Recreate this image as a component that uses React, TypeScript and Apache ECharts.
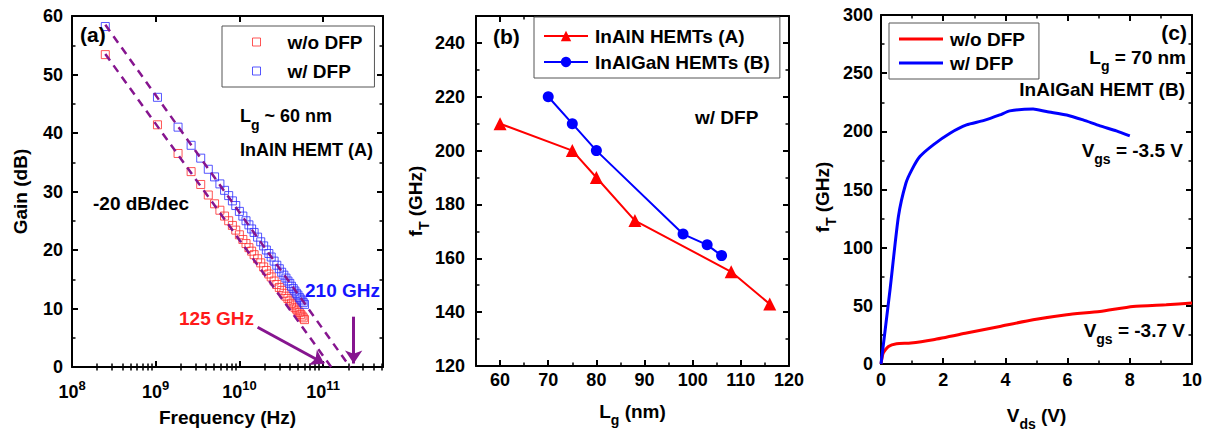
import React, { useEffect, useRef } from 'react';
import * as echarts from 'echarts';

const FONT = '"Liberation Sans", Arial, Helvetica, sans-serif';
const BLACK = '#000';
const PURPLE = '#86158f';

// ---------- Panel (a) data ----------
const freqGHz = [0.25, 1.05, 1.85, 2.65, 3.45, 4.25, 5.05, 5.85, 6.65, 7.45, 8.25, 9.05, 10, 11, 12, 13, 14, 15, 16.5, 18, 19.5, 21, 22.5, 24, 26, 28, 30, 32, 34, 36, 38, 40, 42, 44, 46, 48, 50, 52, 54, 56, 58, 60];
const gainWoDFP = [53.4, 41.4, 36.5, 33.4, 31.2, 29.4, 27.9, 26.8, 25.8, 25.0, 24.2, 23.4, 22.6, 21.8, 21.1, 20.4, 19.8, 19.2, 18.5, 17.8, 17.1, 16.5, 15.9, 15.4, 14.7, 14.1, 13.6, 13.1, 12.6, 12.1, 11.7, 11.3, 10.9, 10.6, 10.2, 9.9, 9.6, 9.3, 9.0, 8.7, 8.4, 8.1];
const gainWDFP = [58.2, 46.1, 41.0, 37.9, 35.7, 33.8, 32.5, 31.3, 30.2, 29.3, 28.4, 27.6, 26.6, 25.8, 25.0, 24.3, 23.6, 23.0, 22.2, 21.4, 20.7, 20.0, 19.4, 18.8, 18.1, 17.4, 16.8, 16.2, 15.7, 15.2, 14.7, 14.3, 13.8, 13.4, 13.0, 12.6, 12.3, 11.9, 11.6, 11.3, 11.0, 10.7];
const fitWoDFP = [[0.25, 53.5], [125, 0]]; // GHz, dB
const fitWDFP = [[0.25, 58.5], [210, 0]];
const arrow125 = [[16.5, 6.8], [103, 0.6]];
const arrow210 = [[232, 8.6], [232, 0.6]];
const freqMinHz = 1e8;
const freqMaxHz = 5.2e11;
const logDecades = [8, 9, 10, 11];
const minorMultipliers = [2, 3, 4, 5, 6, 7, 8, 9];

// ---------- Panel (b) data ----------
const lgA = [60, 75, 80, 88, 108, 116];
const ftA = [210, 200, 190, 174, 155, 143];
const lgB = [70, 75, 80, 98, 103, 106];
const ftB = [220, 210, 200, 169, 165, 161];
const lgMajorTicks = [60, 70, 80, 90, 100, 110, 120];
const lgMinorTicks = [65, 75, 85, 95, 105, 115];

// ---------- Panel (c) data ----------
const vdsWo = [0, 0.07, 0.24, 0.5, 0.96, 1.68, 2.75, 3.82, 4.89, 5.97, 7.04, 8.1, 9.17, 10];
const ftWo = [0, 9.4, 15.1, 17.4, 18.0, 20.9, 26.6, 32.3, 38.0, 42.4, 45.2, 49.5, 51.0, 52.4];
const vdsW = [0, 0.29, 0.56, 0.8, 0.99, 1.25, 1.68, 2.22, 2.75, 3.29, 3.82, 4.14, 4.89, 5.32, 5.97, 6.5, 7.04, 7.57, 8.0];
const ftW = [0, 63.8, 126.8, 155.4, 166.9, 178.3, 188.4, 198.4, 205.5, 209.2, 214.1, 217.6, 219.3, 217, 214.1, 209.8, 204.7, 200.4, 196.1];

// ---------- shared styles ----------
const axisLineS = { show: true, onZero: false, lineStyle: { color: BLACK, width: 2 } };
const tickS = { show: true, inside: true, length: 6, lineStyle: { color: BLACK, width: 2 } };
const minorTickS = { show: true, splitNumber: 2, length: 3.5, lineStyle: { color: BLACK, width: 1.5 } };
const labelBase = { color: BLACK, fontFamily: FONT, fontWeight: 'bold', fontSize: 18, lineHeight: 20 };
const nameBase = { color: BLACK, fontFamily: FONT, fontWeight: 'bold', fontSize: 19, lineHeight: 22 };
const subRich = {
  m: { color: BLACK, fontFamily: FONT, fontWeight: 'bold', fontSize: 19, height: 22, lineHeight: 22, verticalAlign: 'top' },
  s: { color: BLACK, fontFamily: FONT, fontWeight: 'bold', fontSize: 14, height: 40, lineHeight: 40, verticalAlign: 'top' },
};
const legendText = { color: BLACK, fontFamily: FONT, fontWeight: 'bold', fontSize: 19, lineHeight: 20 };

function gRich(color: string, size = 19) {
  return {
    m: { fill: color, color, fontFamily: FONT, fontWeight: 'bold', fontSize: size, height: 22, lineHeight: 22, verticalAlign: 'top' },
    s: { fill: color, color, fontFamily: FONT, fontWeight: 'bold', fontSize: 14, height: 40, lineHeight: 40, verticalAlign: 'top' },
  };
}

// plain text, y = vertical centre
function gText(x: number, y: number, text: string, color = BLACK, size = 19, align = 'left') {
  return {
    type: 'text', x, y, z: 100,
    style: { text, fill: color, font: `bold ${size}px ${FONT}`, align, textAlign: align, verticalAlign: 'middle', textVerticalAlign: 'middle' },
  };
}
// text with subscript, y = vertical centre of main text
function gSub(x: number, y: number, a: string, s: string, b: string, color = BLACK, size = 19, align = 'left') {
  return {
    type: 'text', x, y: y - 11, z: 100,
    style: {
      text: `{m|${a}}{s|${s}}{m|${b}}`, fill: color, font: `bold ${size}px ${FONT}`,
      align, textAlign: align, verticalAlign: 'top', textVerticalAlign: 'top', rich: gRich(color, size),
    },
  };
}
// vertical (rotated) text with subscript; x = centre line of main text, y = centre along the text
function gSubV(x: number, y: number, a: string, s: string, b: string) {
  return {
    type: 'text', x: x - 11, y, rotation: Math.PI / 2, z: 100,
    style: {
      text: `{m|${a}}{s|${s}}{m|${b}}`, fill: BLACK, font: `bold 19px ${FONT}`,
      align: 'center', textAlign: 'center', verticalAlign: 'top', textVerticalAlign: 'top', rich: gRich(BLACK, 19),
    },
  };
}

const mirror = { axisLine: axisLineS, axisTick: tickS, axisLabel: { show: false }, splitLine: { show: false } };

// ---------- option (a) ----------
const minorLogTicks: number[] = [];
logDecades.forEach((d) => minorMultipliers.forEach((m) => {
  const v = m * Math.pow(10, d);
  if (v < freqMaxHz) minorLogTicks.push(Math.log10(v));
}));

const hollow = (c: string) => ({ color: 'rgba(255,255,255,0)', borderColor: c, borderWidth: 1 });
const RED_SQ = '#ff2a2a';
const BLUE_SQ = '#2a2aff';

const optionA = {
  animation: false,
  backgroundColor: '#fff',
  grid: { left: 72, top: 16, width: 311, height: 351, outerBoundsMode: 'none', containLabel: false },
  xAxis: [
    {
      type: 'log', logBase: 10, min: freqMinHz, max: freqMaxHz, position: 'bottom',
      axisLine: axisLineS, axisTick: tickS, splitLine: { show: false },
      axisLabel: {
        ...labelBase, margin: 12, showMaxLabel: false,
        formatter: (v: number) => `{b|10}{p|${Math.round(Math.log10(v))}}`,
        rich: {
          b: { ...labelBase, lineHeight: 22, verticalAlign: 'bottom' },
          p: { ...labelBase, fontSize: 13, lineHeight: 10, verticalAlign: 'top' },
        },
      },
      name: 'Frequency (Hz)', nameLocation: 'middle', nameGap: 39, nameTextStyle: nameBase,
    },
    { type: 'log', logBase: 10, min: freqMinHz, max: freqMaxHz, position: 'top', ...mirror },
    {
      type: 'value', min: 8, max: Math.log10(freqMaxHz), position: 'bottom',
      axisLine: { show: false }, axisLabel: { show: false }, splitLine: { show: false },
      axisTick: { show: true, inside: true, length: 3.5, lineStyle: { color: BLACK, width: 1.5 }, customValues: minorLogTicks },
    },
    {
      type: 'value', min: 8, max: Math.log10(freqMaxHz), position: 'top',
      axisLine: { show: false }, axisLabel: { show: false }, splitLine: { show: false },
      axisTick: { show: true, inside: true, length: 3.5, lineStyle: { color: BLACK, width: 1.5 }, customValues: minorLogTicks },
    },
  ],
  yAxis: [
    {
      type: 'value', min: 0, max: 60, interval: 10, position: 'left',
      axisLine: axisLineS, axisTick: tickS, minorTick: minorTickS, splitLine: { show: false },
      axisLabel: { ...labelBase, margin: 9 },
      name: 'Gain (dB)', nameLocation: 'middle', nameGap: 41, nameTextStyle: nameBase,
    },
    { type: 'value', min: 0, max: 60, interval: 10, position: 'right', minorTick: minorTickS, ...mirror },
  ],
  legend: {
    orient: 'vertical', left: 222, top: 26, padding: [6, 12, 6, 30], itemGap: 9,
    itemWidth: 8, itemHeight: 8, borderColor: '#555', borderWidth: 1, backgroundColor: '#fff',
    textStyle: { ...legendText, padding: [0, 0, 0, 22] },
    data: [
      { name: 'w/o DFP', icon: 'rect', itemStyle: hollow(RED_SQ) },
      { name: 'w/ DFP', icon: 'rect', itemStyle: hollow(BLUE_SQ) },
    ],
  },
  series: [
    {
      type: 'scatter', name: 'w/o DFP', xAxisIndex: 0, yAxisIndex: 0, symbol: 'rect', symbolSize: 8,
      itemStyle: hollow(RED_SQ), data: freqGHz.map((f, i) => [f * 1e9, gainWoDFP[i]]),
    },
    {
      type: 'scatter', name: 'w/ DFP', xAxisIndex: 0, yAxisIndex: 0, symbol: 'rect', symbolSize: 8,
      itemStyle: hollow(BLUE_SQ), data: freqGHz.map((f, i) => [f * 1e9, gainWDFP[i]]),
    },
    {
      type: 'line', name: 'fit1', xAxisIndex: 0, yAxisIndex: 0, symbol: 'none',
      lineStyle: { color: PURPLE, width: 2.5, type: [8, 6] },
      data: fitWoDFP.map(([f, g]) => [f * 1e9, g]),
      markLine: {
        silent: true, symbol: ['none', 'arrow'], symbolSize: 13, label: { show: false },
        lineStyle: { color: PURPLE, width: 3, type: 'solid' },
        data: [
          [{ coord: [arrow125[0][0] * 1e9, arrow125[0][1]] }, { coord: [arrow125[1][0] * 1e9, arrow125[1][1]] }],
          [{ coord: [arrow210[0][0] * 1e9, arrow210[0][1]] }, { coord: [arrow210[1][0] * 1e9, arrow210[1][1]] }],
        ],
      },
    },
    {
      type: 'line', name: 'fit2', xAxisIndex: 0, yAxisIndex: 0, symbol: 'none',
      lineStyle: { color: PURPLE, width: 2.5, type: [8, 6] },
      data: fitWDFP.map(([f, g]) => [f * 1e9, g]),
    },
  ],
  graphic: [
    gText(80, 34, '(a)', BLACK, 21),
    gSub(240, 116, 'L', 'g', ' ~ 60 nm', BLACK, 18),
    gText(240, 150, 'InAlN HEMT (A)', BLACK, 18),
    gText(93, 203, '-20 dB/dec', BLACK, 19),
    gText(305, 290, '210 GHz', '#1414ff', 19),
    gText(179, 318, '125 GHz', '#ff1a1a', 19),
  ],
};

// ---------- option (b) ----------
const minorAxisB = (position: string) => ({
  type: 'value', min: 55, max: 120, position,
  axisLine: { show: false }, axisLabel: { show: false }, splitLine: { show: false },
  axisTick: { show: true, inside: true, length: 3.5, lineStyle: { color: BLACK, width: 1.5 }, customValues: lgMinorTicks },
});

const optionB = {
  animation: false,
  backgroundColor: '#fff',
  grid: { left: 71, top: 16, width: 313, height: 350, outerBoundsMode: 'none', containLabel: false },
  xAxis: [
    {
      type: 'value', min: 55, max: 120, position: 'bottom',
      axisLine: axisLineS, axisTick: { ...tickS, customValues: lgMajorTicks }, splitLine: { show: false },
      axisLabel: { ...labelBase, margin: 4, customValues: lgMajorTicks },
      name: '{m|L}{s|g}{m| (nm)}', nameLocation: 'middle', nameGap: 34, nameTextStyle: { ...nameBase, rich: subRich },
    },
    {
      type: 'value', min: 55, max: 120, position: 'top',
      axisLine: axisLineS, axisTick: { ...tickS, customValues: lgMajorTicks }, axisLabel: { show: false }, splitLine: { show: false },
    },
    minorAxisB('bottom'),
    minorAxisB('top'),
  ],
  yAxis: [
    {
      type: 'value', min: 120, max: 250, interval: 20, position: 'left',
      axisLine: axisLineS, axisTick: tickS, minorTick: minorTickS, splitLine: { show: false },
      axisLabel: { ...labelBase, margin: 11, showMaxLabel: false },
    },
    { type: 'value', min: 120, max: 250, interval: 20, position: 'right', minorTick: minorTickS, ...mirror },
  ],
  legend: {
    orient: 'vertical', left: 129, top: 17, padding: [9, 10, 6, 9], itemGap: 6,
    itemWidth: 44, itemHeight: 13, borderColor: '#555', borderWidth: 1, backgroundColor: '#fff',
    textStyle: { ...legendText, padding: [0, 0, 0, 2] },
    data: ['InAlN HEMTs (A)', 'InAlGaN HEMTs (B)'],
  },
  series: [
    {
      type: 'line', name: 'InAlN HEMTs (A)', symbol: 'triangle', symbolSize: 13,
      itemStyle: { color: '#ff0000' }, lineStyle: { color: '#ff0000', width: 2 },
      data: lgA.map((x, i) => [x, ftA[i]]),
    },
    {
      type: 'line', name: 'InAlGaN HEMTs (B)', symbol: 'circle', symbolSize: 11,
      itemStyle: { color: '#0000ff' }, lineStyle: { color: '#0000ff', width: 2 },
      data: lgB.map((x, i) => [x, ftB[i]]),
    },
  ],
  graphic: [
    gText(88, 36, '(b)', BLACK, 21),
    gText(290, 117, 'w/ DFP', BLACK, 19),
    gSubV(10, 201, 'f', 'T', ' (GHz)'),
  ],
};

// ---------- option (c) ----------
const optionC = {
  animation: false,
  backgroundColor: '#fff',
  grid: { left: 71, top: 15, width: 311, height: 349, outerBoundsMode: 'none', containLabel: false },
  xAxis: [
    {
      type: 'value', min: 0, max: 10, interval: 2, position: 'bottom',
      axisLine: axisLineS, axisTick: tickS, minorTick: minorTickS, splitLine: { show: false },
      axisLabel: { ...labelBase, margin: 6 },
      name: '{m|V}{s|ds}{m| (V)}', nameLocation: 'middle', nameGap: 40, nameTextStyle: { ...nameBase, rich: subRich },
    },
    { type: 'value', min: 0, max: 10, interval: 2, position: 'top', minorTick: minorTickS, ...mirror },
  ],
  yAxis: [
    {
      type: 'value', min: 0, max: 300, interval: 50, position: 'left',
      axisLine: axisLineS, axisTick: tickS, minorTick: minorTickS, splitLine: { show: false },
      axisLabel: { ...labelBase, margin: 8 },
    },
    { type: 'value', min: 0, max: 300, interval: 50, position: 'right', minorTick: minorTickS, ...mirror },
  ],
  legend: {
    orient: 'vertical', left: 79, top: 23, padding: [6, 14, 6, 10], itemGap: 4,
    itemWidth: 44, itemHeight: 3, borderColor: '#555', borderWidth: 1, backgroundColor: '#fff',
    textStyle: { ...legendText, padding: [0, 0, 0, 2] },
    data: [
      { name: 'w/o DFP', icon: 'rect', itemStyle: { color: '#ff0000' } },
      { name: 'w/ DFP', icon: 'rect', itemStyle: { color: '#0000ff' } },
    ],
  },
  series: [
    {
      type: 'line', name: 'w/o DFP', symbol: 'none', smooth: 0.2,
      itemStyle: { color: '#ff0000' }, lineStyle: { color: '#ff0000', width: 3 },
      data: vdsWo.map((x, i) => [x, ftWo[i]]),
    },
    {
      type: 'line', name: 'w/ DFP', symbol: 'none', smooth: 0.2,
      itemStyle: { color: '#0000ff' }, lineStyle: { color: '#0000ff', width: 3 },
      data: vdsW.map((x, i) => [x, ftW[i]]),
    },
  ],
  graphic: [
    gText(377, 32, '(c)', BLACK, 21, 'right'),
    gSub(376, 57, 'L', 'g', ' = 70 nm', BLACK, 19, 'right'),
    gText(375, 89, 'InAlGaN HEMT (B)', BLACK, 19, 'right'),
    gSub(373, 150, 'V', 'gs', ' = -3.5 V', BLACK, 19, 'right'),
    gSub(375, 330, 'V', 'gs', ' = -3.7 V', BLACK, 19, 'right'),
    gSubV(12, 197, 'f', 'T', ' (GHz)'),
  ],
};

function Panel({ left, width, option }: { left: number; width: number; option: any }) {
  const ref = useRef<HTMLDivElement>(null);
  useEffect(() => {
    if (!ref.current) return;
    const chart = echarts.init(ref.current, null, { renderer: 'svg' });
    chart.setOption(option);
    return () => chart.dispose();
  }, [option]);
  return <div ref={ref} style={{ position: 'absolute', left, top: 0, width, height: 432 }} />;
}

export default function App() {
  return (
    <div style={{ position: 'absolute', left: 0, top: 0, width: 1214, height: 432, background: '#fff', overflow: 'hidden' }}>
      <Panel left={0} width={405} option={optionA} />
      <Panel left={405} width={405} option={optionB} />
      <Panel left={810} width={404} option={optionC} />
    </div>
  );
}
